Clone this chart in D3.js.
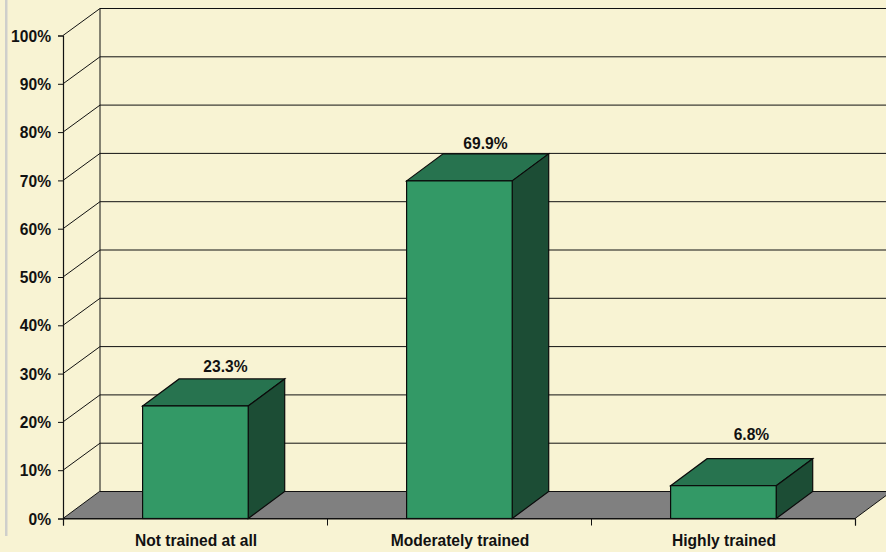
<!DOCTYPE html>
<html>
<head>
<meta charset="utf-8">
<script src="https://cdn.jsdelivr.net/npm/d3@7/dist/d3.min.js"></script>
<style>
html,body{margin:0;padding:0;background:#f8f3d3;overflow:hidden}
text{font-family:"Liberation Sans",Arial,sans-serif;font-weight:bold;font-size:15.6px;fill:#111}
</style>
</head>
<body>
<script>
const categories = ["Not trained at all", "Moderately trained", "Highly trained"];
const values = [23.3, 69.9, 6.8];
const valueLabels = ["23.3%", "69.9%", "6.8%"];
const yTicks = [0, 10, 20, 30, 40, 50, 60, 70, 80, 90, 100];

const W = 886, H = 552;
const x0 = 63, x1 = 855, yBase = 518.5, yTop = 35.5, dx = 36.5, dy = -27;
const labelShift = [[30, -7], [26, -4.5], [28, -18.5]];

const svg = d3.select("body").append("svg").attr("width", W).attr("height", H).style("display", "block");
const y = d3.scaleLinear().domain([0, 100]).range([yBase, yTop]);
const x = d3.scaleBand().domain(categories).range([x0, x1]).paddingInner(0.6).paddingOuter(0.3);
const edges = d3.scaleLinear().domain([0, categories.length]).range([x0, x1]);

// left decorative strip
svg.append("rect").attr("x", 5).attr("y", 0).attr("width", 2.5).attr("height", 536).attr("fill", "#cfcfcb");

// floor
svg.append("polygon")
  .attr("points", [[x0, yBase], [x0 + dx, yBase + dy], [x1 + dx, yBase + dy], [x1, yBase]].join(" "))
  .attr("fill", "#808080").attr("stroke", "#111").attr("stroke-width", 1);

// gridlines on side and back walls
const grid = svg.append("g").attr("stroke", "#111").attr("stroke-width", 1).attr("fill", "none");
grid.selectAll("path").data(yTicks.filter(d => d > 0)).join("path")
  .attr("d", d => `M${x0},${y(d)}L${x0 + dx + 0.5},${y(d) + dy}L${W},${y(d) + dy}`);
grid.append("path").attr("d", `M${x0 + dx + 0.5},${y(100) + dy}V${y(0) + dy}`);

// axes
const yAxis = svg.append("g").attr("transform", `translate(${x0},0)`)
  .call(d3.axisLeft(y).tickValues(yTicks).tickFormat(d => d + "%").tickSize(5).tickPadding(7));
yAxis.selectAll("text").style("font-size", "15.6px").style("font-family", '"Liberation Sans"').style("font-weight", "bold").attr("dy", "0.36em");
const xTicks = svg.append("g").attr("transform", `translate(0,${yBase})`)
  .call(d3.axisBottom(edges).tickValues(d3.range(categories.length + 1)).tickFormat("").tickSize(7));
svg.selectAll(".domain").attr("stroke", "#111").attr("stroke-width", 1.2);
svg.selectAll(".tick line").attr("stroke", "#111");

// bars
const bars = svg.append("g").selectAll("g").data(values).join("g");
const bx = (d, i) => x(categories[i]) + 0.4;
const bw = x.bandwidth();
bars.append("polygon").attr("fill", "#27734f").attr("stroke", "#0b0b0b").attr("stroke-width", 1.2)
  .attr("points", (d, i) => [[bx(d, i), y(d)], [bx(d, i) + dx, y(d) + dy], [bx(d, i) + bw + dx, y(d) + dy], [bx(d, i) + bw, y(d)]].join(" "));
bars.append("polygon").attr("fill", "#1c4d35").attr("stroke", "#0b0b0b").attr("stroke-width", 1.2)
  .attr("points", (d, i) => [[bx(d, i) + bw, y(d)], [bx(d, i) + bw + dx, y(d) + dy], [bx(d, i) + bw + dx, yBase + dy], [bx(d, i) + bw, yBase]].join(" "));
bars.append("rect").attr("fill", "#339966").attr("stroke", "#0b0b0b").attr("stroke-width", 1.2)
  .attr("x", (d, i) => bx(d, i)).attr("y", d => y(d)).attr("width", bw).attr("height", d => yBase - y(d));

// value labels
bars.append("text").attr("text-anchor", "middle")
  .attr("x", (d, i) => bx(d, i) + bw / 2 + labelShift[i][0])
  .attr("y", (d, i) => y(d) + dy + labelShift[i][1])
  .text((d, i) => valueLabels[i]);

// category labels
svg.append("g").selectAll("text").data(categories).join("text")
  .attr("text-anchor", "middle").attr("x", d => x(d) + bw / 2 + 1).attr("y", 545.5).text(d => d);
</script>
</body>
</html>
